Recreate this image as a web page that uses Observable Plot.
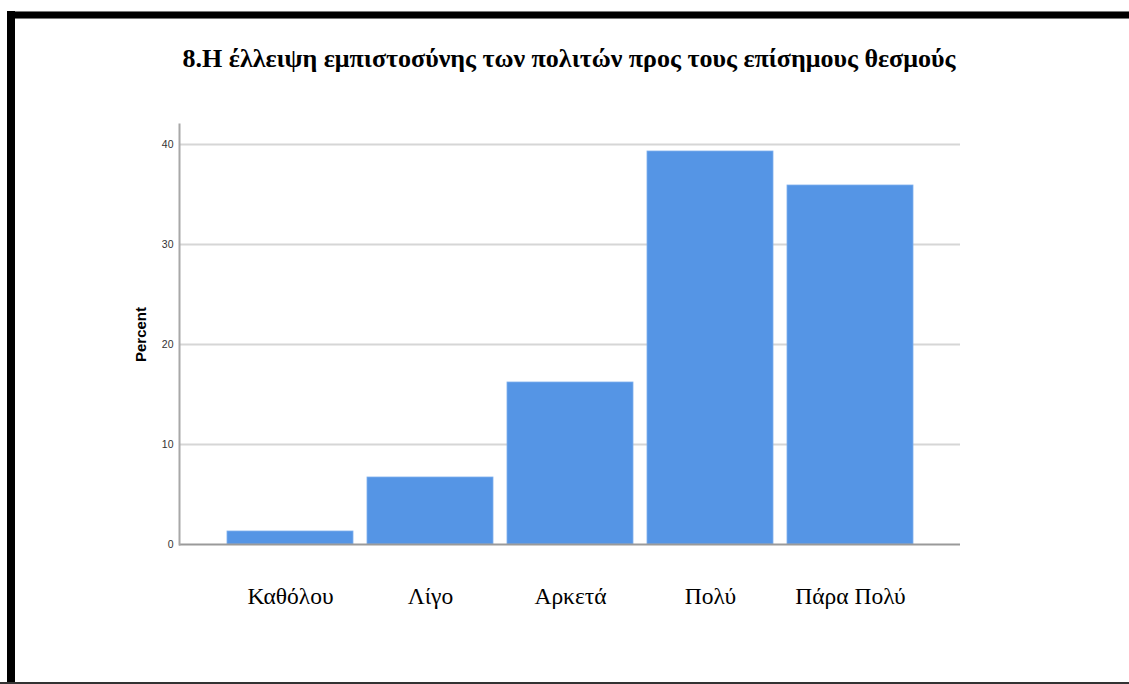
<!DOCTYPE html>
<html>
<head>
<meta charset="utf-8">
<script src="https://cdn.jsdelivr.net/npm/d3@7"></script>
<script src="https://cdn.jsdelivr.net/npm/@observablehq/plot@0.6"></script>
<style>
  html, body { margin: 0; padding: 0; background: #fff; }
  #page { position: relative; width: 1129px; height: 684px; overflow: hidden; background: #fff; }
  #bTop { position: absolute; left: 7px; top: 11px; width: 1122px; height: 8px; background: #000; border-top: 1px solid #777; border-bottom: 1px solid #777; box-sizing: border-box; }
  #bLeft { position: absolute; left: 7px; top: 11px; width: 8px; height: 673px; background: #000; }
  #bBottom { position: absolute; left: 0; top: 682px; width: 1129px; height: 2px; background: #333; }
  #title { position: absolute; left: 0; top: 44px; width: 1138px; text-align: center; font-family: "Liberation Serif", "Times New Roman", serif; font-weight: bold; font-size: 26px; color: #000; }
  #chart { position: absolute; left: 0; top: 0; }
</style>
</head>
<body>
<div id="page">
  <div id="chart"></div>
  <div id="bTop"></div>
  <div id="bLeft"></div>
  <div id="bBottom"></div>
  <div id="title"></div>
</div>
<script>
const titleText = "8.Η έλλειψη εμπιστοσύνης των πολιτών προς τους επίσημους θεσμούς";
const categories = ["Καθόλου", "Λίγο", "Αρκετά", "Πολύ", "Πάρα Πολύ"];
const percents = [1.3, 6.7, 16.2, 39.3, 35.9];
const yTicks = [0, 10, 20, 30, 40];
const gridTicks = [10, 20, 30, 40];
const yLabel = "Percent";

document.getElementById("title").textContent = titleText;

const data = categories.map((c, i) => ({category: c, percent: percents[i]}));

const chart = Plot.plot({
  width: 1129,
  height: 684,
  marginLeft: 179,
  marginRight: 169,
  marginTop: 124,
  marginBottom: 140,
  style: {background: "transparent", overflow: "visible"},
  x: {domain: categories, paddingInner: 0.1, paddingOuter: 0.33},
  y: {domain: [0, 42]},
  marks: [
    Plot.ruleY(gridTicks, {stroke: "#d6d6d6", strokeWidth: 2}),
    Plot.barY(data, {x: "category", y: "percent", fill: "#5595E5", stroke: "#7eb0ee", strokeWidth: 0.8}),
    Plot.axisY({ticks: yTicks, tickSize: 0, tickPadding: 6, fontSize: 10.5, fontFamily: "Liberation Sans, Arial, sans-serif", fill: "#333",
      label: yLabel, labelAnchor: "center", labelArrow: "none", labelOffset: 44}),
    Plot.axisX({tickSize: 0, tickPadding: 43, fontSize: 23.5, fontFamily: "Liberation Serif, Times New Roman, serif", fill: "#000", label: null}),
    Plot.ruleY([0], {stroke: "#9a9a9a", strokeWidth: 2}),
    Plot.frame({anchor: "left", stroke: "#a8a8a8", strokeWidth: 2})
  ]
});
document.getElementById("chart").appendChild(chart);
// style the y axis title
chart.querySelectorAll("[aria-label='y-axis label'] text").forEach(t => {
  t.setAttribute("font-weight", "bold");
  t.setAttribute("font-size", "15");
  t.setAttribute("font-family", "Liberation Sans, Arial, sans-serif");
  t.setAttribute("fill", "#000");
});
</script>
</body>
</html>
